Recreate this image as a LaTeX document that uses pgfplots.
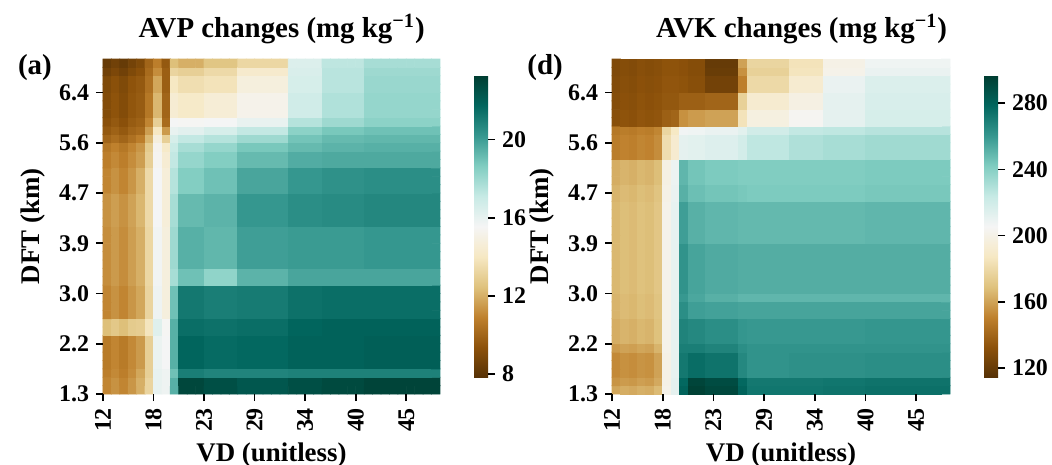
\documentclass[border=0pt]{standalone}
\usepackage{fontspec}
\setmainfont{Liberation Serif}
\usepackage{pgfplots}
\usepackage{pgfplotstable}
\pgfplotsset{compat=1.18}

% 40 x 40 cells, bottom row first, left to right
\pgfplotstableread[row sep=\\,header=false]{
11.0\\11.3\\11.0\\11.4\\12.0\\13.2\\16.0\\15.8\\19.5\\22.9\\22.9\\22.9\\22.6\\22.6\\22.6\\22.6\\22.3\\22.3\\22.3\\22.3\\22.3\\22.3\\22.6\\22.6\\22.6\\22.6\\22.8\\22.8\\22.8\\22.8\\22.8\\23.0\\23.0\\23.0\\23.0\\23.0\\23.0\\23.0\\23.0\\23.0\\
11.0\\11.3\\11.0\\11.4\\12.0\\13.2\\16.0\\15.8\\19.5\\22.9\\22.9\\22.9\\22.6\\22.6\\22.6\\22.6\\22.3\\22.3\\22.3\\22.3\\22.3\\22.3\\22.6\\22.6\\22.6\\22.6\\22.8\\22.8\\22.8\\22.8\\22.8\\23.0\\23.0\\23.0\\23.0\\23.0\\23.0\\23.0\\23.0\\23.0\\
10.8\\11.1\\10.8\\11.2\\11.8\\13.0\\16.0\\15.8\\19.0\\21.0\\21.0\\21.0\\20.8\\20.8\\20.8\\20.8\\20.8\\20.8\\20.8\\20.8\\20.8\\20.8\\20.9\\20.9\\20.9\\20.9\\20.9\\20.9\\20.9\\20.9\\20.9\\20.9\\20.9\\20.9\\20.9\\20.9\\20.9\\20.9\\20.9\\20.9\\
10.7\\11.0\\10.7\\11.1\\11.5\\13.0\\15.9\\15.6\\19.5\\21.8\\21.8\\21.8\\21.6\\21.6\\21.6\\21.6\\21.7\\21.7\\21.7\\21.7\\21.7\\21.7\\21.9\\21.9\\21.9\\21.9\\21.9\\21.9\\21.9\\21.9\\21.9\\22.0\\22.0\\22.0\\22.0\\22.0\\22.0\\22.0\\22.0\\22.0\\
10.7\\11.0\\10.7\\11.1\\11.5\\13.0\\15.9\\15.6\\19.5\\21.8\\21.8\\21.8\\21.6\\21.6\\21.6\\21.6\\21.7\\21.7\\21.7\\21.7\\21.7\\21.7\\21.9\\21.9\\21.9\\21.9\\21.9\\21.9\\21.9\\21.9\\21.9\\22.0\\22.0\\22.0\\22.0\\22.0\\22.0\\22.0\\22.0\\22.0\\
10.7\\11.0\\10.7\\11.1\\11.5\\13.0\\15.9\\15.6\\19.5\\21.8\\21.8\\21.8\\21.6\\21.6\\21.6\\21.6\\21.7\\21.7\\21.7\\21.7\\21.7\\21.7\\21.9\\21.9\\21.9\\21.9\\21.9\\21.9\\21.9\\21.9\\21.9\\22.0\\22.0\\22.0\\22.0\\22.0\\22.0\\22.0\\22.0\\22.0\\
10.7\\11.0\\10.7\\11.1\\11.5\\13.0\\15.9\\15.6\\19.5\\21.8\\21.8\\21.8\\21.6\\21.6\\21.6\\21.6\\21.7\\21.7\\21.7\\21.7\\21.7\\21.7\\21.9\\21.9\\21.9\\21.9\\21.9\\21.9\\21.9\\21.9\\21.9\\22.0\\22.0\\22.0\\22.0\\22.0\\22.0\\22.0\\22.0\\22.0\\
12.4\\12.7\\12.4\\12.8\\12.9\\13.9\\16.3\\15.5\\19.5\\21.5\\21.5\\21.5\\21.4\\21.4\\21.4\\21.4\\21.5\\21.5\\21.5\\21.5\\21.5\\21.5\\21.8\\21.8\\21.8\\21.8\\21.9\\21.9\\21.9\\21.9\\21.9\\21.9\\21.9\\21.9\\21.9\\21.9\\21.9\\21.9\\21.9\\21.9\\
12.4\\12.7\\12.4\\12.8\\12.9\\13.9\\16.3\\15.5\\19.5\\21.5\\21.5\\21.5\\21.4\\21.4\\21.4\\21.4\\21.5\\21.5\\21.5\\21.5\\21.5\\21.5\\21.8\\21.8\\21.8\\21.8\\21.9\\21.9\\21.9\\21.9\\21.9\\21.9\\21.9\\21.9\\21.9\\21.9\\21.9\\21.9\\21.9\\21.9\\
11.0\\11.3\\11.0\\11.4\\11.8\\13.2\\15.8\\14.8\\19.0\\21.2\\21.2\\21.2\\21.0\\21.0\\21.0\\21.0\\21.1\\21.1\\21.1\\21.1\\21.1\\21.1\\21.4\\21.4\\21.4\\21.4\\21.5\\21.5\\21.5\\21.5\\21.5\\21.5\\21.5\\21.5\\21.5\\21.5\\21.5\\21.5\\21.5\\21.5\\
11.0\\11.3\\11.0\\11.4\\11.8\\13.2\\15.8\\14.8\\19.0\\21.2\\21.2\\21.2\\21.0\\21.0\\21.0\\21.0\\21.1\\21.1\\21.1\\21.1\\21.1\\21.1\\21.4\\21.4\\21.4\\21.4\\21.5\\21.5\\21.5\\21.5\\21.5\\21.5\\21.5\\21.5\\21.5\\21.5\\21.5\\21.5\\21.5\\21.5\\
11.0\\11.3\\11.0\\11.4\\11.8\\13.2\\15.8\\14.8\\19.0\\21.2\\21.2\\21.2\\21.0\\21.0\\21.0\\21.0\\21.1\\21.1\\21.1\\21.1\\21.1\\21.1\\21.4\\21.4\\21.4\\21.4\\21.5\\21.5\\21.5\\21.5\\21.5\\21.5\\21.5\\21.5\\21.5\\21.5\\21.5\\21.5\\21.5\\21.5\\
11.0\\11.3\\11.0\\11.4\\11.8\\13.2\\15.8\\14.8\\19.0\\21.2\\21.2\\21.2\\21.0\\21.0\\21.0\\21.0\\21.1\\21.1\\21.1\\21.1\\21.1\\21.1\\21.4\\21.4\\21.4\\21.4\\21.5\\21.5\\21.5\\21.5\\21.5\\21.5\\21.5\\21.5\\21.5\\21.5\\21.5\\21.5\\21.5\\21.5\\
11.2\\11.5\\11.2\\11.6\\12.0\\13.3\\15.7\\14.8\\17.8\\19.0\\19.0\\19.0\\18.3\\18.3\\18.3\\18.3\\19.4\\19.4\\19.4\\19.4\\19.4\\19.4\\19.8\\19.8\\19.8\\19.8\\19.8\\19.8\\19.8\\19.8\\19.8\\19.8\\19.8\\19.8\\19.8\\19.8\\19.8\\19.8\\19.8\\19.8\\
11.2\\11.5\\11.2\\11.6\\12.0\\13.3\\15.7\\14.8\\17.8\\19.0\\19.0\\19.0\\18.3\\18.3\\18.3\\18.3\\19.4\\19.4\\19.4\\19.4\\19.4\\19.4\\19.8\\19.8\\19.8\\19.8\\19.8\\19.8\\19.8\\19.8\\19.8\\19.8\\19.8\\19.8\\19.8\\19.8\\19.8\\19.8\\19.8\\19.8\\
11.2\\11.5\\11.2\\11.6\\12.0\\13.3\\15.7\\14.8\\18.0\\19.5\\19.5\\19.5\\19.3\\19.3\\19.3\\19.3\\20.0\\20.0\\20.0\\20.0\\20.0\\20.0\\20.1\\20.1\\20.1\\20.1\\20.1\\20.1\\20.1\\20.1\\20.1\\20.2\\20.2\\20.2\\20.2\\20.2\\20.2\\20.2\\20.2\\20.2\\
11.2\\11.5\\11.2\\11.6\\12.0\\13.3\\15.7\\14.8\\18.0\\19.5\\19.5\\19.5\\19.3\\19.3\\19.3\\19.3\\20.0\\20.0\\20.0\\20.0\\20.0\\20.0\\20.1\\20.1\\20.1\\20.1\\20.1\\20.1\\20.1\\20.1\\20.1\\20.2\\20.2\\20.2\\20.2\\20.2\\20.2\\20.2\\20.2\\20.2\\
11.2\\11.5\\11.2\\11.6\\12.0\\13.3\\15.7\\14.8\\18.0\\19.5\\19.5\\19.5\\19.3\\19.3\\19.3\\19.3\\20.0\\20.0\\20.0\\20.0\\20.0\\20.0\\20.1\\20.1\\20.1\\20.1\\20.1\\20.1\\20.1\\20.1\\20.1\\20.2\\20.2\\20.2\\20.2\\20.2\\20.2\\20.2\\20.2\\20.2\\
11.2\\11.5\\11.2\\11.6\\12.0\\13.3\\15.7\\14.8\\18.0\\19.5\\19.5\\19.5\\19.3\\19.3\\19.3\\19.3\\20.0\\20.0\\20.0\\20.0\\20.0\\20.0\\20.1\\20.1\\20.1\\20.1\\20.1\\20.1\\20.1\\20.1\\20.1\\20.2\\20.2\\20.2\\20.2\\20.2\\20.2\\20.2\\20.2\\20.2\\
11.2\\11.5\\11.2\\11.6\\12.0\\13.3\\15.7\\14.8\\18.0\\19.5\\19.5\\19.5\\19.3\\19.3\\19.3\\19.3\\20.0\\20.0\\20.0\\20.0\\20.0\\20.0\\20.1\\20.1\\20.1\\20.1\\20.1\\20.1\\20.1\\20.1\\20.1\\20.2\\20.2\\20.2\\20.2\\20.2\\20.2\\20.2\\20.2\\20.2\\
11.3\\11.6\\11.3\\11.7\\12.2\\13.4\\15.6\\14.7\\17.8\\19.2\\19.2\\19.2\\19.4\\19.4\\19.4\\19.4\\20.2\\20.2\\20.2\\20.2\\20.2\\20.2\\20.5\\20.5\\20.5\\20.5\\20.6\\20.6\\20.6\\20.6\\20.6\\20.7\\20.7\\20.7\\20.7\\20.7\\20.7\\20.7\\20.7\\20.7\\
11.3\\11.6\\11.3\\11.7\\12.2\\13.4\\15.6\\14.7\\17.8\\19.2\\19.2\\19.2\\19.4\\19.4\\19.4\\19.4\\20.2\\20.2\\20.2\\20.2\\20.2\\20.2\\20.5\\20.5\\20.5\\20.5\\20.6\\20.6\\20.6\\20.6\\20.6\\20.7\\20.7\\20.7\\20.7\\20.7\\20.7\\20.7\\20.7\\20.7\\
11.3\\11.6\\11.3\\11.7\\12.2\\13.4\\15.6\\14.7\\17.8\\19.2\\19.2\\19.2\\19.4\\19.4\\19.4\\19.4\\20.2\\20.2\\20.2\\20.2\\20.2\\20.2\\20.5\\20.5\\20.5\\20.5\\20.6\\20.6\\20.6\\20.6\\20.6\\20.7\\20.7\\20.7\\20.7\\20.7\\20.7\\20.7\\20.7\\20.7\\
11.3\\11.6\\11.3\\11.7\\12.2\\13.4\\15.6\\14.7\\17.8\\19.2\\19.2\\19.2\\19.4\\19.4\\19.4\\19.4\\20.2\\20.2\\20.2\\20.2\\20.2\\20.2\\20.5\\20.5\\20.5\\20.5\\20.6\\20.6\\20.6\\20.6\\20.6\\20.7\\20.7\\20.7\\20.7\\20.7\\20.7\\20.7\\20.7\\20.7\\
11.0\\11.3\\11.0\\11.4\\12.0\\13.4\\15.6\\14.7\\17.5\\18.6\\18.6\\18.6\\19.0\\19.0\\19.0\\19.0\\19.8\\19.8\\19.8\\19.8\\19.8\\19.8\\20.2\\20.2\\20.2\\20.2\\20.4\\20.4\\20.4\\20.4\\20.4\\20.5\\20.5\\20.5\\20.5\\20.5\\20.5\\20.5\\20.5\\20.5\\
11.0\\11.3\\11.0\\11.4\\12.0\\13.4\\15.6\\14.7\\17.5\\18.6\\18.6\\18.6\\19.0\\19.0\\19.0\\19.0\\19.8\\19.8\\19.8\\19.8\\19.8\\19.8\\20.2\\20.2\\20.2\\20.2\\20.4\\20.4\\20.4\\20.4\\20.4\\20.5\\20.5\\20.5\\20.5\\20.5\\20.5\\20.5\\20.5\\20.5\\
11.0\\11.3\\11.0\\11.4\\12.0\\13.4\\15.6\\14.7\\17.5\\18.6\\18.6\\18.6\\19.0\\19.0\\19.0\\19.0\\19.8\\19.8\\19.8\\19.8\\19.8\\19.8\\20.2\\20.2\\20.2\\20.2\\20.4\\20.4\\20.4\\20.4\\20.4\\20.5\\20.5\\20.5\\20.5\\20.5\\20.5\\20.5\\20.5\\20.5\\
10.8\\11.1\\10.8\\11.2\\11.6\\13.0\\15.4\\14.5\\17.2\\18.2\\18.2\\18.2\\18.6\\18.6\\18.6\\18.6\\19.2\\19.2\\19.2\\19.2\\19.2\\19.2\\19.6\\19.6\\19.6\\19.6\\19.7\\19.7\\19.7\\19.7\\19.7\\19.7\\19.7\\19.7\\19.7\\19.7\\19.7\\19.7\\19.7\\19.7\\
10.8\\11.1\\10.8\\11.2\\11.6\\13.0\\15.4\\14.5\\17.2\\18.2\\18.2\\18.2\\18.6\\18.6\\18.6\\18.6\\19.2\\19.2\\19.2\\19.2\\19.2\\19.2\\19.6\\19.6\\19.6\\19.6\\19.7\\19.7\\19.7\\19.7\\19.7\\19.7\\19.7\\19.7\\19.7\\19.7\\19.7\\19.7\\19.7\\19.7\\
10.6\\10.9\\10.6\\11.0\\11.4\\12.8\\15.3\\14.2\\17.0\\17.8\\17.8\\17.8\\18.2\\18.2\\18.2\\18.2\\18.8\\18.8\\18.8\\18.8\\18.8\\18.8\\19.2\\19.2\\19.2\\19.2\\19.4\\19.4\\19.4\\19.4\\19.4\\19.5\\19.5\\19.5\\19.5\\19.5\\19.5\\19.5\\19.5\\19.5\\
10.0\\10.3\\10.0\\10.4\\10.8\\12.2\\14.8\\13.0\\16.6\\17.2\\17.2\\17.2\\17.5\\17.5\\17.5\\17.5\\18.0\\18.0\\18.0\\18.0\\18.0\\18.0\\18.9\\18.9\\18.9\\18.9\\19.2\\19.2\\19.2\\19.2\\19.2\\19.3\\19.3\\19.3\\19.3\\19.3\\19.3\\19.3\\19.3\\19.3\\
9.6\\9.9\\9.6\\10.0\\10.2\\11.6\\14.0\\11.5\\16.0\\16.2\\16.2\\16.2\\16.6\\16.6\\16.6\\16.6\\17.2\\17.2\\17.2\\17.2\\17.2\\17.2\\18.4\\18.4\\18.4\\18.4\\18.8\\18.8\\18.8\\18.8\\18.8\\19.0\\19.0\\19.0\\19.0\\19.0\\19.0\\19.0\\19.0\\19.0\\
9.3\\9.6\\9.3\\9.7\\9.9\\11.0\\13.0\\10.2\\15.6\\15.5\\15.5\\15.5\\15.6\\15.6\\15.6\\15.6\\16.0\\16.0\\16.0\\16.0\\16.0\\16.0\\17.5\\17.5\\17.5\\17.5\\18.0\\18.0\\18.0\\18.0\\18.0\\18.4\\18.4\\18.4\\18.4\\18.4\\18.4\\18.4\\18.4\\18.4\\
9.1\\9.4\\9.1\\9.5\\9.7\\10.6\\12.2\\10.0\\14.5\\14.2\\14.2\\14.2\\14.6\\14.6\\14.6\\14.6\\15.2\\15.2\\15.2\\15.2\\15.2\\15.2\\16.8\\16.8\\16.8\\16.8\\17.6\\17.6\\17.6\\17.6\\17.6\\18.2\\18.2\\18.2\\18.2\\18.2\\18.2\\18.2\\18.2\\18.2\\
9.1\\9.4\\9.1\\9.5\\9.7\\10.6\\12.2\\10.0\\14.5\\14.2\\14.2\\14.2\\14.6\\14.6\\14.6\\14.6\\15.2\\15.2\\15.2\\15.2\\15.2\\15.2\\16.8\\16.8\\16.8\\16.8\\17.6\\17.6\\17.6\\17.6\\17.6\\18.2\\18.2\\18.2\\18.2\\18.2\\18.2\\18.2\\18.2\\18.2\\
9.1\\9.4\\9.1\\9.5\\9.7\\10.6\\12.2\\10.0\\14.5\\14.2\\14.2\\14.2\\14.6\\14.6\\14.6\\14.6\\15.2\\15.2\\15.2\\15.2\\15.2\\15.2\\16.8\\16.8\\16.8\\16.8\\17.6\\17.6\\17.6\\17.6\\17.6\\18.2\\18.2\\18.2\\18.2\\18.2\\18.2\\18.2\\18.2\\18.2\\
9.0\\9.3\\9.0\\9.4\\9.6\\10.4\\11.8\\9.8\\14.0\\13.6\\13.6\\13.6\\13.8\\13.8\\13.8\\13.8\\14.8\\14.8\\14.8\\14.8\\14.8\\14.8\\16.6\\16.6\\16.6\\16.6\\17.4\\17.4\\17.4\\17.4\\17.4\\18.1\\18.1\\18.1\\18.1\\18.1\\18.1\\18.1\\18.1\\18.1\\
9.0\\9.3\\9.0\\9.4\\9.6\\10.4\\11.8\\9.8\\14.0\\13.6\\13.6\\13.6\\13.8\\13.8\\13.8\\13.8\\14.8\\14.8\\14.8\\14.8\\14.8\\14.8\\16.6\\16.6\\16.6\\16.6\\17.4\\17.4\\17.4\\17.4\\17.4\\18.1\\18.1\\18.1\\18.1\\18.1\\18.1\\18.1\\18.1\\18.1\\
8.6\\8.9\\8.6\\9.0\\9.3\\10.2\\11.2\\9.8\\13.2\\13.0\\13.0\\13.0\\13.4\\13.4\\13.4\\13.4\\14.3\\14.3\\14.3\\14.3\\14.3\\14.3\\16.5\\16.5\\16.5\\16.5\\17.4\\17.4\\17.4\\17.4\\17.4\\18.0\\18.0\\18.0\\18.0\\18.0\\18.0\\18.0\\18.0\\18.0\\
8.3\\8.6\\8.3\\8.7\\9.0\\10.0\\10.8\\9.6\\12.4\\12.0\\12.0\\12.0\\12.6\\12.6\\12.6\\12.6\\13.3\\13.3\\13.3\\13.3\\13.3\\13.3\\16.4\\16.4\\16.4\\16.4\\17.3\\17.3\\17.3\\17.3\\17.3\\17.8\\17.8\\17.8\\17.8\\17.8\\17.8\\17.8\\17.8\\17.8\\
}\avp

\pgfplotstableread[row sep=\\,header=false]{
161\\163\\162\\164\\163\\167\\201\\212\\280\\295\\295\\292\\292\\292\\292\\280\\273\\273\\273\\273\\273\\273\\273\\273\\273\\274\\274\\274\\274\\274\\275\\275\\275\\275\\275\\275\\275\\275\\275\\275\\
156\\158\\157\\159\\158\\162\\200\\212\\278\\293\\293\\290\\290\\290\\290\\278\\272\\272\\272\\272\\272\\272\\272\\272\\272\\273\\273\\273\\273\\273\\274\\274\\274\\274\\274\\274\\274\\274\\274\\274\\
153\\155\\154\\156\\155\\160\\200\\211\\272\\276\\276\\274\\274\\274\\274\\266\\262\\262\\262\\262\\262\\263\\263\\263\\263\\263\\263\\263\\263\\263\\264\\264\\264\\264\\264\\264\\264\\264\\264\\264\\
153\\155\\154\\156\\155\\160\\200\\211\\272\\276\\276\\274\\274\\274\\274\\266\\262\\262\\262\\262\\262\\263\\263\\263\\263\\263\\263\\263\\263\\263\\264\\264\\264\\264\\264\\264\\264\\264\\264\\264\\
153\\155\\154\\156\\155\\160\\200\\211\\272\\276\\276\\274\\274\\274\\274\\266\\262\\262\\262\\262\\262\\263\\263\\263\\263\\263\\263\\263\\263\\263\\264\\264\\264\\264\\264\\264\\264\\264\\264\\264\\
158\\160\\159\\161\\160\\165\\201\\211\\270\\270\\270\\268\\268\\268\\268\\264\\262\\262\\262\\262\\262\\262\\262\\262\\262\\262\\262\\262\\262\\262\\262\\262\\262\\262\\262\\262\\262\\262\\262\\262\\
163\\165\\164\\166\\165\\169\\201\\211\\268\\266\\266\\264\\264\\264\\264\\261\\260\\260\\260\\260\\260\\260\\260\\260\\260\\260\\260\\260\\260\\260\\261\\261\\261\\261\\261\\261\\261\\261\\261\\261\\
163\\165\\164\\166\\165\\169\\201\\211\\268\\266\\266\\264\\264\\264\\264\\261\\260\\260\\260\\260\\260\\260\\260\\260\\260\\260\\260\\260\\260\\260\\261\\261\\261\\261\\261\\261\\261\\261\\261\\261\\
163\\165\\164\\166\\165\\169\\201\\211\\268\\266\\266\\264\\264\\264\\264\\261\\260\\260\\260\\260\\260\\260\\260\\260\\260\\260\\260\\260\\260\\260\\261\\261\\261\\261\\261\\261\\261\\261\\261\\261\\
165\\167\\166\\168\\167\\170\\201\\211\\264\\258\\258\\257\\257\\257\\257\\256\\256\\256\\256\\256\\256\\256\\256\\256\\256\\256\\256\\256\\256\\256\\256\\256\\256\\256\\256\\256\\256\\256\\256\\256\\
165\\167\\166\\168\\167\\170\\201\\211\\264\\258\\258\\257\\257\\257\\257\\256\\256\\256\\256\\256\\256\\256\\256\\256\\256\\256\\256\\256\\256\\256\\256\\256\\256\\256\\256\\256\\256\\256\\256\\256\\
165\\167\\166\\168\\167\\170\\201\\211\\260\\255\\255\\252\\252\\252\\252\\250\\250\\250\\250\\250\\250\\250\\250\\250\\250\\250\\250\\250\\250\\250\\250\\250\\250\\250\\250\\250\\250\\250\\250\\250\\
166\\168\\167\\169\\168\\171\\201\\211\\262\\256\\256\\254\\254\\254\\254\\253\\253\\253\\253\\253\\253\\253\\253\\253\\253\\253\\253\\253\\253\\253\\253\\253\\253\\253\\253\\253\\253\\253\\253\\253\\
166\\168\\167\\169\\168\\171\\201\\211\\262\\256\\256\\254\\254\\254\\254\\253\\253\\253\\253\\253\\253\\253\\253\\253\\253\\253\\253\\253\\253\\253\\253\\253\\253\\253\\253\\253\\253\\253\\253\\253\\
166\\168\\167\\169\\168\\171\\201\\211\\262\\256\\256\\254\\254\\254\\254\\253\\253\\253\\253\\253\\253\\253\\253\\253\\253\\253\\253\\253\\253\\253\\253\\253\\253\\253\\253\\253\\253\\253\\253\\253\\
166\\168\\167\\169\\168\\171\\201\\211\\262\\256\\256\\254\\254\\254\\254\\253\\253\\253\\253\\253\\253\\253\\253\\253\\253\\253\\253\\253\\253\\253\\253\\253\\253\\253\\253\\253\\253\\253\\253\\253\\
166\\168\\167\\169\\168\\171\\201\\211\\262\\256\\256\\254\\254\\254\\254\\253\\253\\253\\253\\253\\253\\253\\253\\253\\253\\253\\253\\253\\253\\253\\253\\253\\253\\253\\253\\253\\253\\253\\253\\253\\
166\\168\\167\\169\\168\\171\\201\\211\\262\\256\\256\\254\\254\\254\\254\\253\\253\\253\\253\\253\\253\\253\\253\\253\\253\\253\\253\\253\\253\\253\\253\\253\\253\\253\\253\\253\\253\\253\\253\\253\\
166\\168\\167\\169\\168\\171\\201\\211\\258\\252\\252\\250\\250\\250\\250\\249\\249\\249\\249\\249\\249\\249\\249\\249\\249\\249\\249\\249\\249\\249\\250\\250\\250\\250\\250\\250\\250\\250\\250\\250\\
166\\168\\167\\169\\168\\171\\201\\211\\258\\252\\252\\250\\250\\250\\250\\249\\249\\249\\249\\249\\249\\249\\249\\249\\249\\249\\249\\249\\249\\249\\250\\250\\250\\250\\250\\250\\250\\250\\250\\250\\
166\\168\\167\\169\\168\\171\\201\\211\\258\\252\\252\\250\\250\\250\\250\\249\\249\\249\\249\\249\\249\\249\\249\\249\\249\\249\\249\\249\\249\\249\\250\\250\\250\\250\\250\\250\\250\\250\\250\\250\\
166\\168\\167\\169\\168\\171\\201\\211\\258\\252\\252\\250\\250\\250\\250\\249\\249\\249\\249\\249\\249\\249\\249\\249\\249\\249\\249\\249\\249\\249\\250\\250\\250\\250\\250\\250\\250\\250\\250\\250\\
166\\168\\167\\169\\168\\171\\201\\211\\258\\252\\252\\250\\250\\250\\250\\249\\249\\249\\249\\249\\249\\249\\249\\249\\249\\249\\249\\249\\249\\249\\250\\250\\250\\250\\250\\250\\250\\250\\250\\250\\
165\\167\\166\\168\\167\\170\\200\\210\\252\\247\\247\\245\\245\\245\\245\\244\\243\\243\\243\\243\\243\\243\\243\\243\\243\\243\\243\\243\\243\\243\\244\\244\\244\\244\\244\\244\\244\\244\\244\\244\\
165\\167\\166\\168\\167\\170\\200\\210\\252\\247\\247\\245\\245\\245\\245\\244\\243\\243\\243\\243\\243\\243\\243\\243\\243\\243\\243\\243\\243\\243\\244\\244\\244\\244\\244\\244\\244\\244\\244\\244\\
163\\165\\164\\166\\165\\168\\199\\209\\250\\245\\245\\243\\243\\243\\243\\242\\242\\242\\242\\242\\242\\242\\242\\242\\242\\242\\242\\242\\242\\242\\243\\243\\243\\243\\243\\243\\243\\243\\243\\243\\
163\\165\\164\\166\\165\\168\\199\\209\\250\\245\\245\\243\\243\\243\\243\\242\\242\\242\\242\\242\\242\\242\\242\\242\\242\\242\\242\\242\\242\\242\\243\\243\\243\\243\\243\\243\\243\\243\\243\\243\\
163\\165\\164\\166\\165\\168\\199\\209\\250\\245\\245\\243\\243\\243\\243\\242\\242\\242\\242\\242\\242\\242\\242\\242\\242\\242\\242\\242\\242\\242\\243\\243\\243\\243\\243\\243\\243\\243\\243\\243\\
149\\151\\150\\152\\151\\154\\182\\192\\212\\213\\213\\215\\215\\215\\215\\219\\226\\226\\226\\226\\226\\230\\230\\230\\230\\232\\232\\232\\232\\232\\234\\234\\234\\234\\234\\234\\234\\234\\234\\234\\
149\\151\\150\\152\\151\\154\\182\\192\\212\\213\\213\\215\\215\\215\\215\\219\\226\\226\\226\\226\\226\\230\\230\\230\\230\\232\\232\\232\\232\\232\\234\\234\\234\\234\\234\\234\\234\\234\\234\\234\\
149\\151\\150\\152\\151\\154\\182\\192\\212\\213\\213\\215\\215\\215\\215\\219\\226\\226\\226\\226\\226\\230\\230\\230\\230\\232\\232\\232\\232\\232\\234\\234\\234\\234\\234\\234\\234\\234\\234\\234\\
147\\149\\148\\150\\149\\152\\178\\188\\207\\208\\208\\210\\210\\210\\210\\213\\220\\220\\220\\220\\220\\225\\225\\225\\225\\226\\226\\226\\226\\226\\228\\228\\228\\228\\228\\228\\228\\228\\228\\228\\
131\\133\\132\\134\\133\\134\\138\\140\\155\\158\\158\\160\\160\\160\\160\\185\\198\\198\\198\\198\\198\\204\\204\\204\\204\\212\\212\\212\\212\\212\\218\\218\\218\\218\\218\\218\\218\\218\\218\\218\\
131\\133\\132\\134\\133\\134\\138\\140\\155\\158\\158\\160\\160\\160\\160\\185\\198\\198\\198\\198\\198\\204\\204\\204\\204\\212\\212\\212\\212\\212\\218\\218\\218\\218\\218\\218\\218\\218\\218\\218\\
130\\132\\131\\133\\132\\133\\135\\135\\138\\138\\138\\140\\140\\140\\140\\176\\192\\192\\192\\192\\192\\199\\199\\199\\199\\212\\212\\212\\212\\212\\217\\217\\217\\217\\217\\217\\217\\217\\217\\217\\
130\\132\\131\\133\\132\\133\\135\\135\\138\\138\\138\\140\\140\\140\\140\\176\\192\\192\\192\\192\\192\\199\\199\\199\\199\\212\\212\\212\\212\\212\\217\\217\\217\\217\\217\\217\\217\\217\\217\\217\\
129\\131\\130\\132\\131\\132\\134\\134\\133\\131\\131\\124\\124\\124\\124\\150\\180\\180\\180\\180\\180\\192\\192\\192\\192\\210\\210\\210\\210\\210\\216\\216\\216\\216\\216\\216\\216\\216\\216\\216\\
129\\131\\130\\132\\131\\132\\134\\134\\133\\131\\131\\124\\124\\124\\124\\150\\180\\180\\180\\180\\180\\192\\192\\192\\192\\210\\210\\210\\210\\210\\216\\216\\216\\216\\216\\216\\216\\216\\216\\216\\
128\\130\\129\\131\\130\\131\\133\\133\\132\\130\\130\\121\\121\\121\\121\\155\\176\\176\\176\\176\\176\\186\\186\\186\\186\\201\\201\\201\\201\\201\\210\\210\\210\\210\\210\\210\\210\\210\\210\\210\\
128\\130\\129\\131\\130\\131\\133\\133\\132\\130\\130\\120\\120\\120\\120\\160\\178\\178\\178\\178\\178\\185\\185\\185\\185\\200\\200\\200\\200\\200\\208\\208\\208\\208\\208\\208\\208\\208\\208\\208\\
}\avk

\pgfplotsset{
  colormap={brbg}{rgb255=(84,48,5) rgb255=(140,81,10) rgb255=(191,129,45)
    rgb255=(223,194,125) rgb255=(246,232,195) rgb255=(245,245,245)
    rgb255=(199,234,229) rgb255=(128,205,193) rgb255=(53,151,143)
    rgb255=(1,102,94) rgb255=(0,60,48)},
  % matrix plot turns the y axis downwards, so row r sits at y = 39 - r
  heat/.style={
    scale only axis, height=167.5bp,
    xmin=-0.5, xmax=39.5, ymin=-0.5, ymax=39.5,
    enlargelimits=false, clip=false, axis on top,
    axis line style={draw=none},
    tick align=outside, major tick length=3.5bp,
    every tick/.style={black, line width=0.8bp},
    xtick pos=left, ytick pos=left,
    xtick={-0.5,5.5,11.5,17.5,23.5,29.5,35.5},
    xticklabels={12,18,23,29,34,40,45},
    ytick={39.5,33.5,27.5,21.5,15.5,9.5,3.5},
    yticklabels={1.3,2.2,3.0,3.9,4.7,5.6,6.4},
    tick label style={font=\bfseries\fontsize{12}{14}\selectfont},
    xticklabel style={rotate=90, anchor=east},
    label style={font=\bfseries\fontsize{13.5}{16}\selectfont},
    xlabel={VD (unitless)}, ylabel={DFT (km)},
    xlabel style={at={(axis description cs:0.5,0)}, anchor=north, inner sep=0pt, yshift=-24bp},
    ylabel style={at={(axis description cs:-0.208,0.5)}, anchor=center, inner sep=0pt},
    colormap name=brbg,
    colorbar,
  },
  cbar/.style={
    at={(parent axis.east)}, anchor=west, xshift=8.5bp,
    scale only axis, width=7bp, height=151.5bp,
    axis line style={draw=none},
    tick align=outside, major tick length=3.5bp,
    every tick/.style={black, line width=0.8bp},
    ytick pos=right,
    yticklabel style={font=\bfseries\fontsize{12}{14}\selectfont,
      /pgf/number format/assume math mode=true},
  },
}

\begin{document}
\begin{tikzpicture}
\useasboundingbox (-51.5bp,-35.5bp) rectangle (474.5bp,197bp);

\begin{axis}[heat, width=168.5bp, at={(0,0)}, anchor=south west,
  point meta min=7.8, point meta max=23.3,
  colorbar style={cbar, ytick={8,12,16,20}}]
\addplot[matrix plot, mesh/cols=40, point meta=explicit]
  table[x index=0, y index=0, meta index=0,
    x expr={mod(\coordindex,40)}, y expr={39-floor((\coordindex+0.5)/40)}] {\avp};
\node[anchor=base, font=\bfseries\fontsize{14.5}{17}\selectfont]
  at (axis description cs:0.53,1.063) {AVP changes (mg kg\textsuperscript{−1})};
\node[anchor=base, font=\bfseries\fontsize{14.5}{17}\selectfont]
  at (axis description cs:-0.202,0.955) {(a)};
\end{axis}

\begin{axis}[heat, width=169bp, at={(254.5bp,0)}, anchor=south west,
  point meta min=114, point meta max=297,
  colorbar style={cbar, ytick={120,160,200,240,280}}]
\addplot[matrix plot, mesh/cols=40, point meta=explicit]
  table[x index=0, y index=0, meta index=0,
    x expr={mod(\coordindex,40)}, y expr={39-floor((\coordindex+0.5)/40)}] {\avk};
\node[anchor=base, font=\bfseries\fontsize{14.5}{17}\selectfont]
  at (axis description cs:0.561,1.063) {AVK changes (mg kg\textsuperscript{−1})};
\node[anchor=base, font=\bfseries\fontsize{14.5}{17}\selectfont]
  at (axis description cs:-0.198,0.955) {(d)};
\end{axis}
\end{tikzpicture}
\end{document}
